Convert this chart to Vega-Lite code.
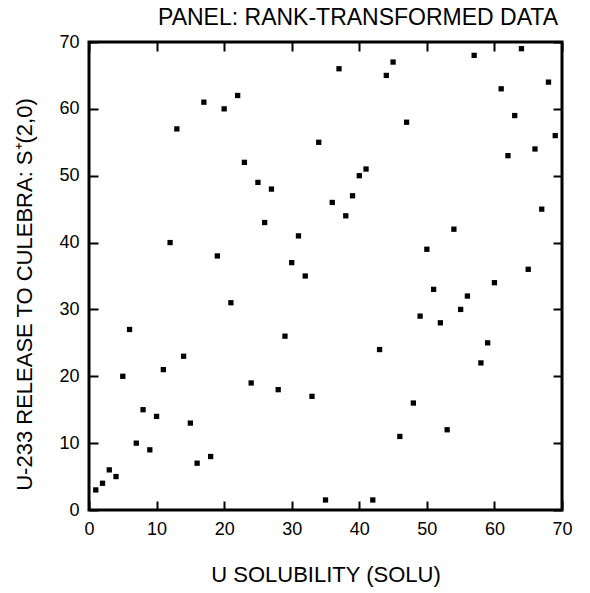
{
  "$schema": "https://vega.github.io/schema/vega-lite/v6.json",
  "autosize": "none",
  "width": 473,
  "height": 468,
  "padding": {"left": 89, "top": 42, "right": 28, "bottom": 83},
  "background": "white",
  "title": {
    "text": "PANEL:  RANK-TRANSFORMED DATA",
    "anchor": "end",
    "dx": -14,
    "offset": 3,
    "font": "Liberation Sans",
    "fontSize": 23,
    "fontWeight": "normal",
    "color": "black"
  },
  "data": {
    "values": [
      {"solu": 1, "rel": 3}, {"solu": 2, "rel": 4}, {"solu": 3, "rel": 6}, {"solu": 4, "rel": 5},
      {"solu": 5, "rel": 20}, {"solu": 6, "rel": 27}, {"solu": 7, "rel": 10}, {"solu": 8, "rel": 15},
      {"solu": 9, "rel": 9}, {"solu": 10, "rel": 14}, {"solu": 11, "rel": 21}, {"solu": 12, "rel": 40},
      {"solu": 13, "rel": 57}, {"solu": 14, "rel": 23}, {"solu": 15, "rel": 13}, {"solu": 16, "rel": 7},
      {"solu": 17, "rel": 61}, {"solu": 18, "rel": 8}, {"solu": 19, "rel": 38}, {"solu": 20, "rel": 60},
      {"solu": 21, "rel": 31}, {"solu": 22, "rel": 62}, {"solu": 23, "rel": 52}, {"solu": 24, "rel": 19},
      {"solu": 25, "rel": 49}, {"solu": 26, "rel": 43}, {"solu": 27, "rel": 48}, {"solu": 28, "rel": 18},
      {"solu": 29, "rel": 26}, {"solu": 30, "rel": 37}, {"solu": 31, "rel": 41}, {"solu": 32, "rel": 35},
      {"solu": 33, "rel": 17}, {"solu": 34, "rel": 55}, {"solu": 35, "rel": 1.5}, {"solu": 36, "rel": 46},
      {"solu": 37, "rel": 66}, {"solu": 38, "rel": 44}, {"solu": 39, "rel": 47}, {"solu": 40, "rel": 50},
      {"solu": 41, "rel": 51}, {"solu": 42, "rel": 1.5}, {"solu": 43, "rel": 24}, {"solu": 44, "rel": 65},
      {"solu": 45, "rel": 67}, {"solu": 46, "rel": 11}, {"solu": 47, "rel": 58}, {"solu": 48, "rel": 16},
      {"solu": 49, "rel": 29}, {"solu": 50, "rel": 39}, {"solu": 51, "rel": 33}, {"solu": 52, "rel": 28},
      {"solu": 53, "rel": 12}, {"solu": 54, "rel": 42}, {"solu": 55, "rel": 30}, {"solu": 56, "rel": 32},
      {"solu": 57, "rel": 68}, {"solu": 58, "rel": 22}, {"solu": 59, "rel": 25}, {"solu": 60, "rel": 34},
      {"solu": 61, "rel": 63}, {"solu": 62, "rel": 53}, {"solu": 63, "rel": 59}, {"solu": 64, "rel": 69},
      {"solu": 65, "rel": 36}, {"solu": 66, "rel": 54}, {"solu": 67, "rel": 45}, {"solu": 68, "rel": 64},
      {"solu": 69, "rel": 56}
    ]
  },
  "config": {
    "view": {"stroke": "black", "strokeWidth": 3},
    "axis": {
      "grid": false,
      "domain": false,
      "offset": -9,
      "ticks": true,
      "tickColor": "black",
      "tickWidth": 2,
      "tickSize": 9,
      "labelColor": "black",
      "labelFont": "Liberation Sans",
      "labelFontSize": 18,
      "titleColor": "black",
      "titleFont": "Liberation Sans",
      "titleFontSize": 22,
      "titleFontWeight": "normal"
    }
  },
  "layer": [
    {
      "mark": {"type": "point", "shape": "square", "filled": true, "color": "black", "opacity": 1, "size": 28},
      "encoding": {
        "x": {
          "field": "solu", "type": "quantitative",
          "scale": {"domain": [0, 70], "nice": false, "zero": false},
          "axis": {"orient": "bottom", "values": [0, 10, 20, 30, 40, 50, 60, 70], "labelPadding": 10, "labelFlush": false, "title": "U SOLUBILITY (SOLU)", "titlePadding": 26}
        },
        "y": {
          "field": "rel", "type": "quantitative",
          "scale": {"domain": [0, 70], "nice": false, "zero": false},
          "axis": {"orient": "left", "values": [0, 10, 20, 30, 40, 50, 60, 70], "labelPadding": 10, "labelFlush": false, "title": "U-233 RELEASE TO CULEBRA: S⁺(2,0)", "titlePadding": 22, "titleY": 252}
        }
      }
    },
    {
      "mark": {"type": "point", "shape": "square", "filled": true, "color": "black", "opacity": 0, "size": 28},
      "encoding": {
        "x": {
          "field": "solu", "type": "quantitative",
          "axis": {"orient": "top", "values": [0, 10, 20, 30, 40, 50, 60, 70], "labels": false, "title": null, "domain": false, "ticks": true, "tickSize": 9, "offset": -9}
        },
        "y": {
          "field": "rel", "type": "quantitative",
          "axis": {"orient": "right", "values": [0, 10, 20, 30, 40, 50, 60, 70], "labels": false, "title": null, "domain": false, "ticks": true, "tickSize": 9, "offset": -9}
        }
      }
    }
  ],
  "resolve": {"axis": {"x": "independent", "y": "independent"}}
}
